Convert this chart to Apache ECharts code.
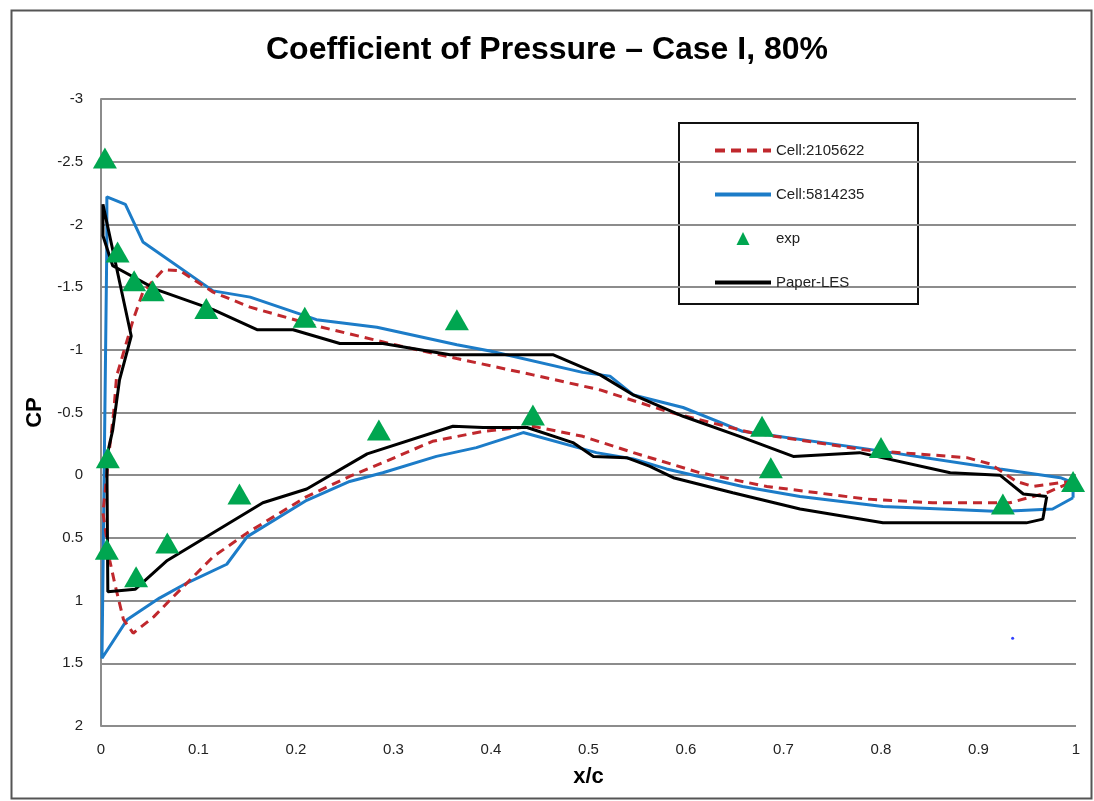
<!DOCTYPE html>
<html>
<head>
<meta charset="utf-8">
<script src="https://cdn.jsdelivr.net/npm/echarts@6/dist/echarts.min.js"></script>
<style>
  html, body { margin: 0; padding: 0; background: #fff; }
  #chart { width: 1094px; height: 801px; }
</style>
</head>
<body>
<div id="chart"></div>
<script>
// values, [x/c, Cp]
const cell2105622 = [
  [0.997, 0.05], [0.984, 0.06], [0.956, 0.09], [0.939, 0.05], [0.912, -0.09], [0.888, -0.14],
  [0.785, -0.20], [0.666, -0.34], [0.580, -0.51], [0.512, -0.68], [0.443, -0.80], [0.365, -0.93],
  [0.307, -1.03], [0.221, -1.19], [0.153, -1.34], [0.115, -1.46], [0.081, -1.63], [0.064, -1.64],
  [0.043, -1.46], [0.033, -1.24], [0.016, -0.79], [0.013, -0.50], [0.009, -0.23], [0.002, 0.30],
  [0.009, 0.68], [0.014, 0.86], [0.023, 1.15], [0.033, 1.26], [0.054, 1.13], [0.074, 0.97],
  [0.115, 0.65], [0.150, 0.46], [0.211, 0.17], [0.255, 0.01], [0.289, -0.10], [0.340, -0.27],
  [0.392, -0.35], [0.443, -0.39], [0.494, -0.31], [0.546, -0.18], [0.614, -0.02], [0.683, 0.09],
  [0.785, 0.19], [0.853, 0.22], [0.932, 0.22], [0.970, 0.14], [0.997, 0.05]
];
const cell5814235 = [
  [0.997, 0.18], [0.997, 0.06], [0.984, 0.02], [0.922, -0.05], [0.785, -0.21], [0.658, -0.35],
  [0.597, -0.54], [0.546, -0.64], [0.522, -0.79], [0.494, -0.82], [0.399, -0.99], [0.365, -1.04],
  [0.283, -1.18], [0.221, -1.24], [0.153, -1.42], [0.115, -1.47], [0.043, -1.86], [0.025, -2.16],
  [0.006, -2.22], [0.006, -1.85], [0.001, 1.46], [0.027, 1.15], [0.060, 0.98], [0.088, 0.86],
  [0.129, 0.71], [0.150, 0.49], [0.211, 0.20], [0.255, 0.05], [0.289, -0.02], [0.344, -0.15],
  [0.385, -0.22], [0.433, -0.34], [0.508, -0.18], [0.546, -0.13], [0.580, -0.05], [0.658, 0.09],
  [0.717, 0.17], [0.802, 0.25], [0.922, 0.29], [0.976, 0.27], [0.997, 0.18]
];
const expData = [
  [0.004, -2.53], [0.017, -1.78], [0.034, -1.55], [0.053, -1.47], [0.108, -1.33], [0.209, -1.26],
  [0.365, -1.24], [0.443, -0.48], [0.285, -0.36], [0.007, -0.14], [0.006, 0.59], [0.036, 0.81],
  [0.068, 0.54], [0.142, 0.15], [0.678, -0.39], [0.687, -0.06], [0.800, -0.22], [0.925, 0.23],
  [0.997, 0.05]
];
const paperLES = [
  [0.970, 0.17], [0.946, 0.15], [0.922, 0.00], [0.871, -0.02], [0.778, -0.18], [0.710, -0.15],
  [0.655, -0.31], [0.597, -0.47], [0.546, -0.64], [0.512, -0.80], [0.464, -0.96], [0.419, -0.96],
  [0.358, -0.96], [0.289, -1.05], [0.245, -1.05], [0.197, -1.16], [0.160, -1.16], [0.115, -1.32],
  [0.057, -1.48], [0.012, -1.67], [0.002, -1.91], [0.002, -2.16], [0.031, -1.11], [0.019, -0.76],
  [0.012, -0.36], [0.006, -0.15], [0.007, 0.93], [0.035, 0.91], [0.068, 0.68], [0.166, 0.22],
  [0.211, 0.11], [0.273, -0.17], [0.361, -0.39], [0.392, -0.38], [0.437, -0.38], [0.484, -0.26],
  [0.505, -0.15], [0.539, -0.14], [0.563, -0.07], [0.587, 0.02], [0.648, 0.14], [0.717, 0.27],
  [0.802, 0.38], [0.922, 0.38], [0.949, 0.38], [0.966, 0.35], [0.970, 0.17]
];
const strayPoint = [[0.935, 1.30]];

const xTicks = { min: 0, max: 1, interval: 0.1 };
const yTicks = { min: -3, max: 2, interval: 0.5 };

const font = '"Liberation Sans Narrow", "Liberation Sans", Lato, sans-serif';
const red = '#C0282D', blue = '#1C7CC8', green = '#00A650';
const chart = echarts.init(document.getElementById('chart'));

chart.setOption({
  animation: false,
  backgroundColor: '#fff',
  title: {
    text: 'Coefficient of Pressure \u2013 Case I, 80%',
    left: 'center',
    top: 29,
    textStyle: { fontFamily: font, fontSize: 32, fontWeight: 'bold', color: '#000' }
  },
  grid: { left: 101, right: 18, top: 99, bottom: 75 },
  legend: {
    orient: 'vertical',
    left: 708,
    top: 138,
    itemGap: 29,
    itemWidth: 56,
    itemHeight: 13,
    symbolKeepAspect: true,
    textStyle: { fontFamily: font, fontSize: 15, color: '#222', padding: [0, 0, 0, 0] },
    data: [
      { name: 'Cell:2105622', itemStyle: { opacity: 0 }, lineStyle: { width: 4, type: [10, 6] } },
      { name: 'Cell:5814235', itemStyle: { opacity: 0 }, lineStyle: { width: 4 } },
      { name: 'exp', icon: 'path://M0,12 L6,0 L12,12 Z', itemStyle: { color: green } },
      { name: 'Paper-LES', itemStyle: { opacity: 0 }, lineStyle: { width: 4 } }
    ]
  },
  graphic: [
    { type: 'rect', left: 9, top: 8, shape: { width: 1080, height: 788 },
      style: { fill: 'none', stroke: '#555', lineWidth: 2 }, z: 100 },
    { type: 'rect', left: 678, top: 122, shape: { width: 239, height: 181 },
      style: { fill: '#fff', stroke: '#111', lineWidth: 2 }, z: 0, zlevel: 0 }
  ],
  xAxis: {
    type: 'value',
    min: xTicks.min, max: xTicks.max, interval: xTicks.interval,
    name: 'x/c',
    nameLocation: 'middle',
    nameGap: 40,
    nameTextStyle: { fontFamily: font, fontSize: 22, fontWeight: 'bold', color: '#000' },
    axisLine: { show: false },
    axisTick: { show: false },
    splitLine: { show: false },
    axisLabel: { fontFamily: font, fontSize: 15, color: '#222', margin: 16 }
  },
  yAxis: {
    type: 'value',
    inverse: true,
    min: yTicks.min, max: yTicks.max, interval: yTicks.interval,
    name: 'CP',
    nameLocation: 'middle',
    nameGap: 55,
    nameRotate: 90,
    nameTextStyle: { fontFamily: font, fontSize: 22, fontWeight: 'bold', color: '#000' },
    axisLine: { show: true, lineStyle: { color: '#8c8c8c', width: 2 } },
    axisTick: { show: false },
    splitLine: { show: true, lineStyle: { color: '#8c8c8c', width: 2 } },
    axisLabel: { fontFamily: font, fontSize: 15, color: '#222', margin: 18 }
  },
  series: [
    {
      name: 'Cell:2105622', type: 'line', data: cell2105622, showSymbol: false, symbol: 'none',
      lineStyle: { color: red, width: 3, type: [9, 6] }, itemStyle: { color: red }, z: 3
    },
    {
      name: 'Cell:5814235', type: 'line', data: cell5814235, showSymbol: false, symbol: 'none',
      lineStyle: { color: blue, width: 3 }, itemStyle: { color: blue }, z: 2
    },
    {
      name: 'exp', type: 'scatter', data: expData, symbol: 'triangle', symbolSize: [24, 21],
      itemStyle: { color: green, opacity: 1 }, z: 5
    },
    {
      name: 'Paper-LES', type: 'line', data: paperLES, showSymbol: false, symbol: 'none',
      lineStyle: { color: '#000', width: 3 }, itemStyle: { color: '#000' }, z: 4
    },
    {
      name: 'stray', type: 'scatter', data: strayPoint, symbol: 'circle', symbolSize: 3,
      itemStyle: { color: '#3040ff', opacity: 1 }, z: 5
    }
  ]
});
</script>
</body>
</html>
